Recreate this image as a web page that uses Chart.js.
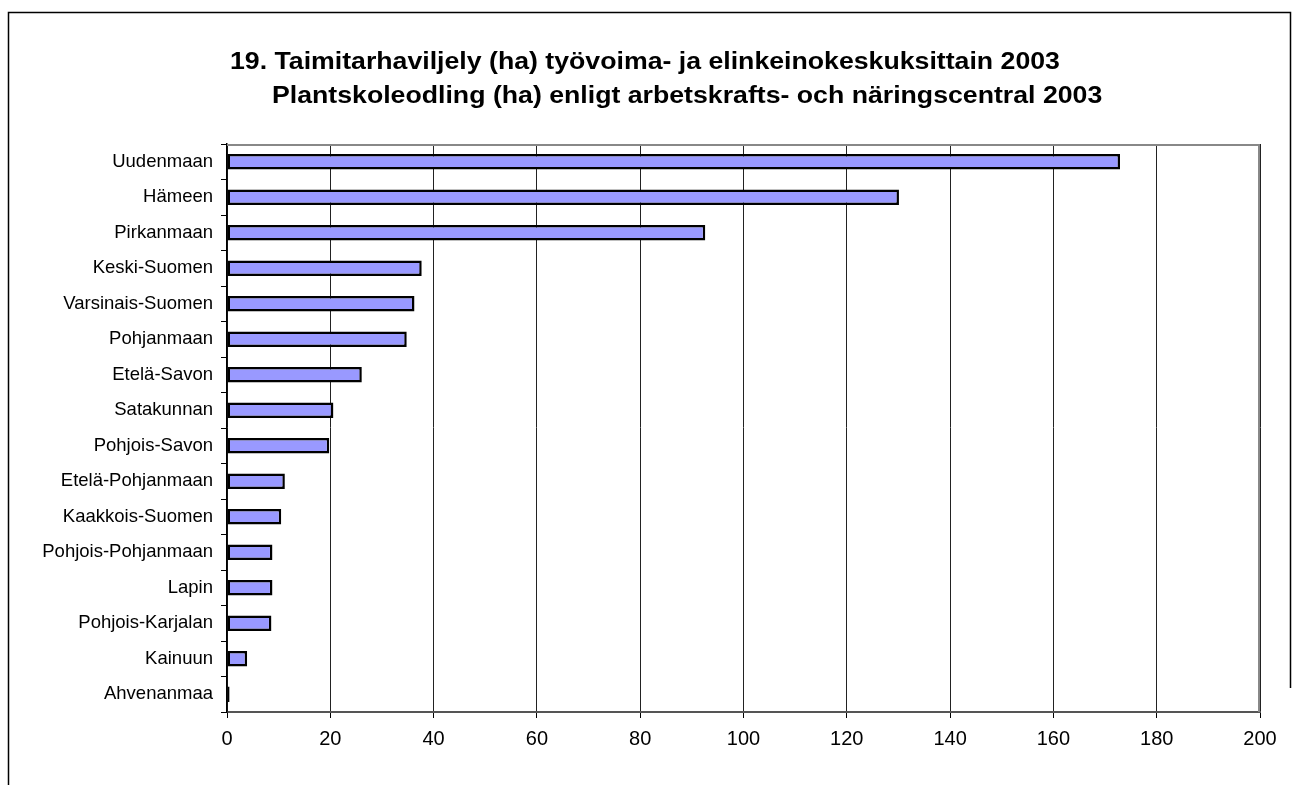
<!DOCTYPE html>
<html>
<head>
<meta charset="utf-8">
<script src="https://cdn.jsdelivr.net/npm/chart.js@4/dist/chart.umd.min.js"></script>
<style>
  html, body { margin: 0; padding: 0; background: #fff; }
  #wrap { width: 1298px; height: 785px; position: relative; }
</style>
</head>
<body>
<div id="wrap"><canvas id="c" width="1298" height="785"></canvas></div>
<script>
const titleLines = [
  "19. Taimitarhaviljely (ha) työvoima- ja elinkeinokeskuksittain 2003",
  "Plantskoleodling (ha) enligt arbetskrafts- och näringscentral 2003"
];
const categories = [
  "Uudenmaan", "Hämeen", "Pirkanmaan", "Keski-Suomen", "Varsinais-Suomen",
  "Pohjanmaan", "Etelä-Savon", "Satakunnan", "Pohjois-Savon", "Etelä-Pohjanmaan",
  "Kaakkois-Suomen", "Pohjois-Pohjanmaan", "Lapin", "Pohjois-Karjalan", "Kainuun", "Ahvenanmaa"
];
const hectares = [
  172.9, 130.1, 92.6, 37.7, 36.3,
  34.8, 26.1, 20.6, 19.8, 11.2,
  10.5, 8.8, 8.8, 8.6, 3.9, 0.5
];
const xMin = 0, xMax = 200, xStep = 20;

const framePlugin = {
  id: 'frame',
  afterDraw(chart) {
    const ctx = chart.ctx;
    const a = chart.chartArea;
    ctx.save();
    // plot area top and right border
    ctx.strokeStyle = '#888888';
    ctx.lineWidth = 2;
    ctx.beginPath();
    ctx.moveTo(a.left, a.top + 1);
    ctx.lineTo(a.right - 1, a.top + 1);
    ctx.lineTo(a.right - 1, a.bottom);
    ctx.stroke();
    // outer frame
    ctx.strokeStyle = '#000';
    ctx.lineWidth = 1.5;
    ctx.beginPath();
    ctx.moveTo(8.5, 785);
    ctx.lineTo(8.5, 12.5);
    ctx.lineTo(1290.5, 12.5);
    ctx.lineTo(1290.5, 688);
    ctx.stroke();
    // title (horizontally widened like the original)
    ctx.fillStyle = '#000';
    ctx.font = 'bold 23px "Liberation Sans", Arial, sans-serif';
    ctx.textAlign = 'left';
    ctx.textBaseline = 'alphabetic';
    const sx = 1.16;
    ctx.save();
    ctx.translate(230, 69);
    ctx.scale(sx, 1);
    ctx.fillText(titleLines[0], 0, 0);
    ctx.restore();
    ctx.save();
    ctx.translate(272, 103);
    ctx.scale(sx, 1);
    ctx.fillText(titleLines[1], 0, 0);
    ctx.restore();
    ctx.restore();
  }
};

new Chart(document.getElementById('c'), {
  type: 'bar',
  data: {
    labels: categories,
    datasets: [{
      data: hectares,
      backgroundColor: '#9999FF',
      borderColor: '#000000',
      borderWidth: 2.5,
      borderSkipped: false,
      categoryPercentage: 1,
      barPercentage: 0.44
    }]
  },
  options: {
    indexAxis: 'y',
    responsive: false,
    animation: false,
    layout: { padding: { left: 0, top: 144, right: 38, bottom: 0 } },
    plugins: {
      legend: { display: false },
      tooltip: { enabled: false },
      title: { display: false }
    },
    scales: {
      x: {
        type: 'linear',
        min: xMin, max: xMax,
        ticks: {
          stepSize: xStep,
          color: '#000',
          font: { family: '"Liberation Sans", Arial, sans-serif', size: 20 },
          padding: 9,
          maxRotation: 0
        },
        grid: {
          color: '#222222',
          lineWidth: 1,
          drawTicks: true,
          tickLength: 6,
          tickColor: '#000'
        },
        border: { color: '#555555', width: 2 },
        afterFit(scale) { scale.height = 73; }
      },
      y: {
        ticks: {
          color: '#000',
          font: { family: '"Liberation Sans", Arial, sans-serif', size: 18.5 },
          padding: 8
        },
        grid: {
          offset: true,
          drawOnChartArea: false,
          drawTicks: true,
          tickLength: 6,
          color: '#000'
        },
        border: { color: '#000', width: 1.5 },
        afterFit(scale) { scale.width = 227; }
      }
    }
  },
  plugins: [framePlugin]
});
</script>
</body>
</html>
